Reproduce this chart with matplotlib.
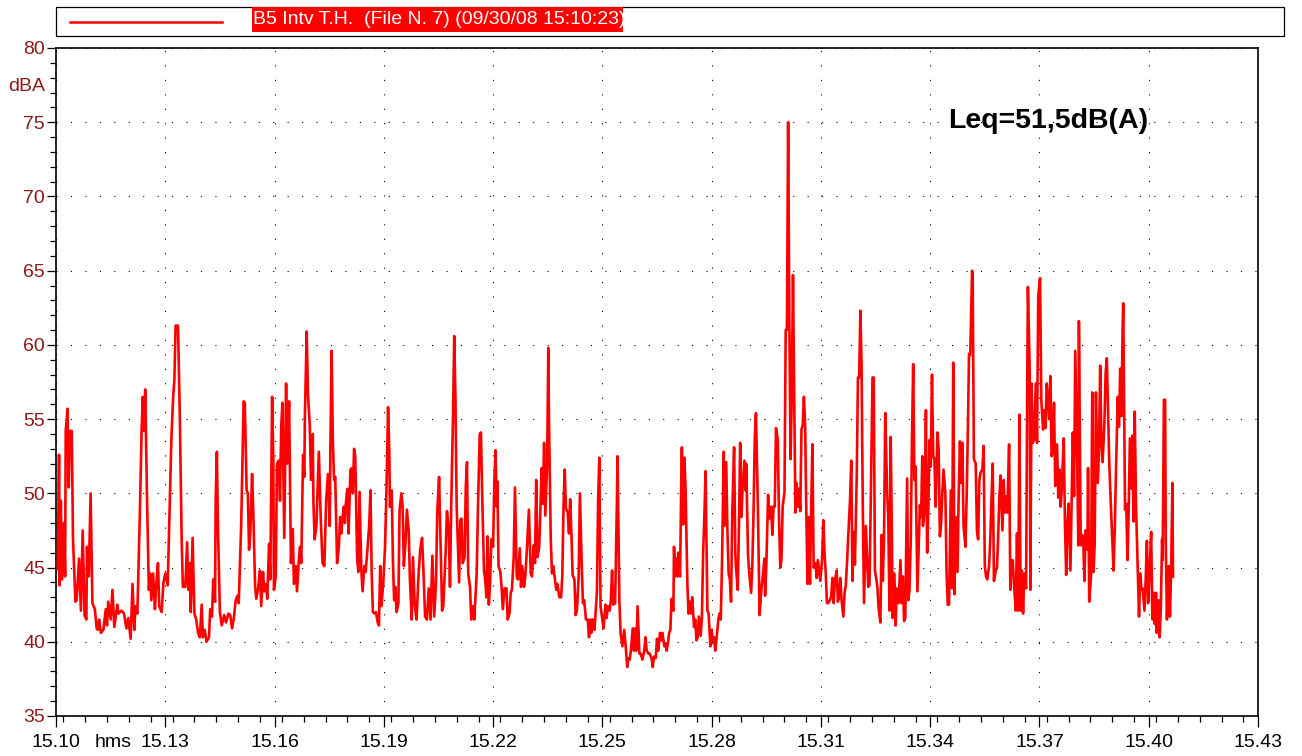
import numpy as np
import matplotlib
matplotlib.use("Agg")
import matplotlib.pyplot as plt
from matplotlib.ticker import MultipleLocator, FixedLocator
from matplotlib.patches import Rectangle
from matplotlib.lines import Line2D

plt.rcParams["font.family"] = ["Liberation Sans", "DejaVu Sans"]

# ---- data: sound level ----
# seconds after 15:10:00 (trace starts START_S seconds into the axis)
START_S = 3
seconds = [
    0, 2, 3, 5, 7, 10, 12, 13, 16, 18, 20, 23, 25, 29, 31, 35, 38, 41, 44, 47,
    48, 51, 54, 57, 61, 64, 66, 68, 71, 75, 79, 81, 83, 87, 90, 93, 98, 100, 105, 109,
    113, 116, 120, 123, 126, 128, 131, 135, 138, 140, 142, 144, 147, 150, 152, 154, 157, 160, 162, 165,
    167, 171, 174, 177, 181, 184, 187, 190, 192, 194, 198, 201, 204, 206, 210, 213, 215, 217, 219, 222,
    225,
    228, 231, 234, 237, 239, 242, 245, 249, 251, 254, 256, 259, 260, 262, 264, 267, 270, 274, 277, 281,
    284, 287, 290, 293, 296, 298, 300, 302, 304, 306, 308, 311, 313, 315, 317, 320, 322, 325, 327, 330,
    333, 335, 338, 340, 343, 345, 348, 350, 353, 355, 356, 359, 361, 364, 366, 368, 370, 373, 376, 378,
    381, 384, 387, 389, 392, 394, 397, 399, 401, 404, 406, 407, 410, 412, 415, 417, 420, 421, 423, 426,
    428, 430, 433, 436, 439, 442, 445, 448, 449, 451, 453, 455, 457, 460, 463,
    465, 467, 469, 471, 473, 474, 477, 479, 482, 484, 486, 488, 490, 493, 495, 497, 500, 502, 505, 507,
    510, 513, 515, 517, 519, 522, 524, 527, 529, 531, 533, 536, 539, 541, 544, 546, 547, 550, 552, 554,
    556, 558, 561, 563, 566, 568, 570, 573, 575, 578, 580, 583, 585, 588, 591, 594, 597, 600, 602, 605,
    608, 611, 614, 617, 620, 623, 625, 628, 630, 633, 635, 639, 641, 644, 646, 648, 651, 653, 655, 657,
    661, 663, 665, 667, 670, 672, 674, 676, 679, 681, 684, 686,
    690, 692, 695, 697, 699, 702, 704, 706, 708, 710, 712, 714, 717, 719, 721, 723, 724, 726, 729, 731,
    733, 736, 739, 741, 744, 746, 748, 751, 753, 756, 758, 761, 763, 765, 768, 770, 772, 774, 776, 779,
    781, 784, 786, 788, 790, 793, 795, 797, 799, 801, 803, 806, 808, 809, 812, 814, 816, 818, 821, 823,
    826, 829, 831, 833, 835, 837, 840, 842, 844, 846, 848, 851, 853, 855, 858, 860, 863, 865, 867, 870,
    873, 875, 877, 879, 881, 884, 886, 888, 890, 892, 894, 897, 899, 902, 904, 906, 909, 911, 913, 915,
    918,
    921, 922, 925, 927, 930, 933, 936, 938, 940, 942, 944, 947, 949, 951, 953, 955, 958, 960, 963, 966,
    968, 970, 973, 975, 978, 980, 982, 985, 987, 989, 992, 994, 996, 999, 1001, 1003, 1005, 1007, 1009, 1011,
    1014, 1015, 1017, 1019, 1021, 1022, 1025, 1027, 1028, 1030, 1032, 1034, 1037, 1039, 1041, 1043, 1045, 1048, 1050, 1052,
    1054, 1056, 1059, 1061, 1063, 1065, 1067, 1069, 1070, 1072, 1075, 1077, 1079, 1081, 1083, 1086, 1088, 1090, 1092, 1094,
    1097, 1098, 1101, 1103, 1105, 1107, 1109, 1111, 1114, 1116, 1117, 1120, 1122, 1124, 1126, 1128, 1131, 1133, 1134, 1137,
    1139, 1142, 1144, 1146, 1148, 1150, 1153,
    1156, 1159, 1161, 1164, 1165, 1167, 1170, 1172, 1175, 1177, 1179, 1181, 1183, 1186, 1188, 1190, 1192, 1194, 1197, 1199,
    1201, 1203, 1205, 1207, 1209, 1211, 1213, 1215, 1217, 1219, 1221, 1223, 1225, 1227, 1229, 1231, 1233, 1235, 1237, 1239,
    1241, 1243, 1245, 1248, 1250, 1252, 1254, 1256, 1259, 1261, 1263, 1265, 1267, 1269, 1272, 1274, 1276, 1278, 1280, 1283,
    1285, 1287, 1289, 1291, 1294, 1296, 1298, 1300, 1302, 1305, 1307, 1309, 1311, 1313, 1316, 1318, 1320, 1322, 1324, 1326,
    1328, 1331, 1333, 1335, 1337, 1339, 1342, 1344, 1346, 1348, 1350, 1352, 1355, 1357, 1359, 1361, 1363, 1366, 1368, 1370,
    1372, 1374, 1375, 1378, 1380, 1382, 1384,
    1385, 1388, 1390, 1392, 1394, 1396, 1399, 1401, 1403, 1405, 1407, 1409, 1411, 1413, 1416, 1418, 1420, 1422, 1424, 1425,
    1428, 1430, 1432, 1434, 1436, 1438, 1440, 1442, 1444, 1446, 1449, 1451, 1453, 1455, 1457, 1459, 1462, 1464, 1466, 1468,
    1471, 1473, 1475, 1477, 1479, 1482, 1484, 1486, 1488, 1490, 1492, 1495, 1497, 1499, 1501, 1503, 1506, 1507, 1509, 1512,
    1514, 1516, 1518, 1520, 1523, 1525, 1527, 1529, 1531, 1534, 1536, 1538, 1540, 1542, 1545, 1547, 1549, 1551, 1553, 1556,
    1558, 1560, 1562, 1564, 1567, 1569, 1571, 1573, 1575, 1578, 1580, 1582, 1584, 1586, 1588, 1590, 1592, 1595, 1597, 1598,
    1601, 1602, 1604, 1606, 1608, 1611, 1613,
    1615, 1618, 1620, 1623, 1625, 1627, 1629, 1631, 1633, 1635, 1637, 1639, 1641, 1643, 1646, 1648, 1650, 1652, 1654, 1657,
    1659, 1661, 1663, 1665, 1668, 1670, 1672, 1674, 1676, 1679, 1681, 1682, 1685, 1687, 1689, 1691, 1693, 1696, 1697, 1699,
    1702, 1704, 1706, 1708, 1710, 1713, 1715, 1717, 1719, 1721, 1724, 1726, 1728, 1730, 1732, 1735, 1737, 1739, 1741, 1743,
    1746, 1748, 1750, 1752, 1754, 1755, 1758, 1760, 1762, 1764, 1766, 1769, 1770, 1772, 1774, 1776, 1779, 1781, 1783, 1785,
    1787, 1790, 1792, 1794, 1796, 1798, 1801, 1803, 1805, 1807, 1809, 1810, 1813, 1815, 1817, 1819, 1820, 1822, 1824, 1825,
    1827, 1830, 1832, 1834, 1836, 1837,
]
level_dba = [
    44.9, 52.6, 43.8, 49.5, 44.2, 48.0, 44.4, 54.2, 55.7, 50.4, 54.2, 54.2, 46.9, 42.7, 42.8, 45.6, 42.1, 47.5, 41.8, 41.5,
    46.4, 44.4, 50.0, 42.6, 42.2, 40.9, 40.8, 41.5, 40.6, 40.8, 42.2, 41.1, 42.7, 41.5, 43.5, 41.0, 42.5, 41.9, 42.1, 41.9,
    40.9, 41.6, 40.2, 43.9, 40.8, 42.4, 41.9, 48.4, 54.2, 56.5, 54.2, 57.0, 49.5, 43.5, 44.6, 42.8, 44.6, 42.2, 43.8, 45.3,
    42.4, 42.0, 44.0, 44.6, 43.8, 48.7, 53.6, 56.5, 57.6, 61.3, 61.3, 55.1, 46.9, 43.7, 43.7, 46.7, 43.5, 45.3, 42.0, 47.0,
    41.9,
    41.5, 40.6, 40.3, 42.5, 40.3, 40.8, 40.0, 40.3, 42.2, 41.7, 44.2, 42.7, 49.5, 52.8, 47.3, 42.0, 41.1, 41.8, 41.3, 41.9,
    41.8, 40.9, 41.6, 42.8, 43.1, 42.6, 45.1, 47.8, 51.8, 56.2, 56.1, 50.2, 50.0, 46.2, 47.3, 51.3, 48.7, 43.7, 42.9, 43.6,
    44.8, 42.4, 44.7, 43.4, 43.9, 42.9, 46.6, 44.2, 56.5, 52.2, 43.5, 44.4, 52.0, 52.2, 49.5, 54.5, 56.1, 47.0, 57.4, 52.0,
    56.2, 45.3, 47.6, 43.9, 45.1, 43.4, 45.5, 46.4, 45.3, 52.6, 51.1, 55.2, 60.9, 56.7, 54.6, 50.9, 54.0, 49.5, 46.9, 47.8,
    50.4, 52.8, 48.4, 45.3, 45.1, 49.5, 51.3, 47.8, 53.1, 59.6, 53.6, 50.9, 51.1, 45.3, 46.4,
    48.4, 47.3, 48.4, 49.1, 48.0, 49.1, 50.3, 47.3, 51.6, 51.7, 50.0, 53.0, 52.5, 45.7, 44.7, 50.1, 44.8, 43.4, 45.1, 44.7,
    46.2, 47.9, 50.2, 44.6, 42.0, 41.9, 42.0, 41.3, 41.1, 45.1, 42.4, 43.9, 46.4, 49.5, 55.8, 52.9, 49.1, 50.2, 45.5, 42.8,
    43.7, 42.0, 42.6, 48.9, 50.0, 49.1, 45.1, 46.9, 48.9, 47.5, 44.2, 41.5, 45.7, 42.4, 41.5, 44.4, 46.2, 47.0, 45.1, 41.7,
    41.5, 43.6, 41.5, 45.8, 41.7, 44.0, 48.7, 51.1, 47.5, 42.1, 42.4, 46.2, 48.8, 47.5, 43.7, 49.1, 55.2, 60.6, 56.3, 49.1,
    44.0, 48.2, 48.3, 45.3, 45.7, 50.4, 52.1, 44.6, 43.7, 41.5, 42.4, 41.5,
    44.6, 48.9, 54.0, 54.1, 50.0, 44.8, 44.2, 43.0, 47.1, 42.5, 43.9, 46.9, 46.4, 50.7, 52.9, 49.1, 50.8, 45.1, 44.7, 43.7,
    42.2, 43.6, 43.6, 41.5, 41.9, 43.3, 43.5, 45.7, 50.4, 44.4, 44.2, 46.3, 43.7, 45.1, 43.7, 44.4, 45.7, 47.3, 48.9, 44.6,
    44.4, 46.5, 45.3, 50.9, 45.7, 46.4, 49.1, 51.7, 49.3, 53.4, 48.5, 52.0, 59.8, 55.1, 46.9, 44.6, 45.1, 44.5, 43.5, 43.9,
    43.0, 43.0, 44.4, 49.1, 51.6, 49.0, 48.7, 47.3, 49.6, 47.3, 44.5, 44.2, 41.8, 42.1, 44.4, 50.0, 45.1, 42.6, 42.8, 41.5,
    41.5, 40.3, 41.5, 40.6, 41.5, 40.8, 42.1, 43.3, 49.5, 52.4, 42.4, 41.5, 40.9, 42.5, 41.6, 42.4, 42.1, 42.8, 44.8, 42.5,
    42.6,
    49.5, 52.5, 42.8, 40.6, 39.7, 40.8, 39.4, 38.3, 38.9, 38.8, 39.4, 40.9, 39.4, 40.9, 39.4, 42.4, 39.2, 39.2, 38.8, 39.4,
    40.3, 39.4, 39.2, 39.2, 38.9, 38.3, 39.0, 38.9, 40.2, 39.4, 40.6, 40.1, 40.6, 39.7, 39.9, 39.4, 39.9, 40.6, 40.8, 42.9,
    42.1, 46.4, 44.4, 45.6, 44.4, 46.0, 44.4, 50.9, 53.1, 47.9, 52.4, 50.4, 43.9, 41.9, 42.7, 41.9, 43.0, 41.0, 41.5, 40.1,
    40.3, 41.7, 40.4, 41.7, 46.0, 48.4, 51.5, 45.1, 42.1, 41.9, 39.7, 40.8, 40.0, 40.3, 39.4, 40.6, 41.5, 41.9, 41.5, 45.1,
    52.8, 47.8, 52.1, 47.5, 44.6, 44.2, 42.7, 48.7, 53.1, 46.0, 45.1, 43.5, 47.8, 53.4, 48.4, 50.4, 52.2, 50.2, 52.0, 45.8,
    44.6, 43.3, 45.1, 48.7, 53.6, 55.4, 49.5,
    41.8, 43.6, 44.3, 45.6, 43.1, 45.0, 49.9, 48.3, 49.1, 47.2, 49.1, 49.1, 54.4, 53.6, 48.3, 45.0, 45.5, 49.1, 50.1, 61.0,
    61.0, 75.0, 61.8, 52.3, 56.5, 64.7, 56.5, 48.7, 50.7, 49.1, 50.3, 48.8, 54.3, 54.6, 56.5, 54.6, 48.6, 43.9, 48.4, 43.9,
    49.1, 53.3, 45.0, 45.3, 44.3, 45.5, 44.8, 44.1, 45.6, 48.2, 45.9, 44.6, 42.6, 42.6, 42.8, 43.1, 44.3, 42.6, 44.1, 44.8,
    42.7, 43.1, 44.3, 42.8, 41.7, 43.3, 43.8, 45.3, 47.1, 49.6, 52.2, 44.1, 47.4, 45.2, 51.1, 57.8, 57.8, 62.3, 58.5, 49.1,
    42.6, 47.8, 45.8, 43.7, 43.8, 49.1, 57.8, 57.8, 44.8, 44.3, 43.7, 42.3, 41.3, 47.2, 44.1, 47.1, 55.4, 50.3, 48.3, 42.1,
    53.8, 46.8, 41.6, 44.6, 41.1, 43.6, 42.8,
    42.6, 45.5, 42.6, 44.4, 41.4, 41.6, 51.0, 42.8, 43.5, 46.9, 53.6, 58.7, 50.9, 51.8, 43.4, 46.4, 49.2, 48.4, 52.5, 47.8,
    48.9, 55.6, 46.0, 49.1, 53.6, 51.8, 58.0, 52.5, 52.3, 49.1, 54.1, 52.9, 47.1, 48.0, 50.0, 51.6, 50.0, 44.6, 42.5, 42.5,
    50.2, 43.6, 58.8, 43.2, 48.4, 44.7, 50.0, 53.5, 50.7, 53.4, 47.8, 46.4, 49.6, 54.1, 59.4, 59.3, 65.0, 64.8, 52.3, 52.0,
    47.5, 46.9, 50.9, 51.4, 51.6, 53.2, 45.1, 44.4, 44.2, 45.1, 46.9, 49.6, 52.0, 44.1, 44.8, 45.0, 47.1, 49.8, 51.2, 47.5,
    50.9, 48.7, 49.8, 48.7, 53.3, 43.5, 45.5, 45.5, 43.9, 42.1, 47.3, 42.1, 55.3, 42.1, 44.8, 41.9, 44.6, 43.6, 58.2, 63.9,
    58.1, 43.5, 57.4, 53.4, 53.6, 57.4, 53.4,
    63.3, 64.5, 56.3, 54.3, 55.6, 54.4, 57.4, 56.3, 55.0, 57.9, 52.5, 52.9, 56.1, 50.5, 53.3, 49.7, 51.6, 49.1, 50.5, 53.7,
    48.0, 44.5, 47.8, 49.3, 44.8, 49.6, 54.1, 49.8, 59.6, 52.7, 46.5, 61.6, 46.5, 47.2, 47.1, 44.1, 47.5, 46.2, 51.7, 42.7,
    44.4, 56.8, 44.7, 46.6, 56.8, 50.7, 52.7, 58.6, 53.6, 52.1, 54.7, 58.1, 59.1, 55.4, 52.0, 48.8, 46.9, 44.8, 47.5, 51.4,
    56.5, 54.5, 58.4, 55.2, 61.0, 62.8, 48.9, 49.3, 45.5, 48.9, 53.7, 50.3, 53.9, 48.1, 55.5, 49.3, 44.8, 41.7, 44.6, 43.5,
    43.6, 42.1, 44.2, 46.8, 42.6, 44.4, 47.4, 41.5, 43.3, 41.2, 43.3, 40.6, 42.8, 40.3, 42.4, 46.9, 45.5, 56.3, 56.3, 46.9,
    41.5, 45.1, 41.7, 45.1, 50.7, 44.4,
]
n = min(len(seconds), len(level_dba))

series_label = "B5 Intv T.H.  (File N. 7) (09/30/08 15:10:23)"
leq_label = "Leq=51,5dB(A)"
x_ticks = [15.10, 15.13, 15.16, 15.19, 15.22, 15.25, 15.28, 15.31, 15.34, 15.37, 15.40, 15.43]
y_ticks = [35, 40, 45, 50, 55, 60, 65, 70, 75, 80]

RED = "#ff0000"
AXIS_RED = "#8b1a1a"
W, H = 1302, 756

t_hms = 15.10 + (np.array(seconds[:n]) + START_S) / 6000.0
lev = np.array(level_dba[:n])

fig = plt.figure(figsize=(W / 100, H / 100), dpi=100)
ax = fig.add_axes([56 / W, 1 - 716 / H, (1258 - 56) / W, (716 - 48) / H])

ax.plot(t_hms, lev, color=RED, lw=1.9, zorder=3)

ax.set_xlim(15.10, 15.43)
ax.set_ylim(35, 80)
ax.xaxis.set_major_locator(FixedLocator(x_ticks))
ax.set_xticklabels([f"{v:.2f}" for v in x_ticks])
ax.xaxis.set_minor_locator(MultipleLocator(0.006))
ax.yaxis.set_major_locator(FixedLocator(y_ticks))
ax.yaxis.set_minor_locator(MultipleLocator(1))

ax.tick_params(axis="x", which="major", direction="out", length=8, width=0.9,
               labelsize=14, pad=5, top=False)
ax.tick_params(axis="x", which="minor", direction="out", length=4.5, width=0.9, top=False)
ax.tick_params(axis="y", which="major", direction="out", length=6.5, width=0.9,
               labelsize=14, pad=1.5, labelcolor=AXIS_RED, right=False)
ax.tick_params(axis="y", which="minor", direction="out", length=4.5, width=0.9, right=False)

ax.grid(True, which="major", color="k", linestyle=(0, (1, 12)), linewidth=0.8, zorder=1)
for s in ax.spines.values():
    s.set_linewidth(1.2)

# axis units
ax.annotate("dBA", xy=(0, 77.4), xycoords=("axes fraction", "data"),
            xytext=(-7.5, 0), textcoords="offset points", ha="right", va="center",
            fontsize=14, color=AXIS_RED)
ax.annotate("hms", xy=(15.1156, 0), xycoords=("data", "axes fraction"),
            xytext=(0, -13), textcoords="offset points", ha="center", va="top",
            fontsize=14, color="k")

ax.text(0.7425, 0.880, leq_label, transform=ax.transAxes, fontsize=20.5,
        fontweight="bold", ha="left", va="baseline", color="k")

# legend strip above the plot
fig.add_artist(Rectangle((56 / W, 1 - 36 / H), (1284 - 56) / W, 29 / H,
                         transform=fig.transFigure, facecolor="white",
                         edgecolor="k", lw=0.9))
fig.add_artist(Line2D([70 / W, 222 / W], [1 - 22 / H, 1 - 22 / H],
                      transform=fig.transFigure, color=RED, lw=1.8))
fig.add_artist(Rectangle((252 / W, 1 - 32 / H), (623 - 252) / W, 25 / H,
                         transform=fig.transFigure, facecolor=RED, edgecolor="none"))
fig.text(253 / W, 1 - 20 / H, series_label, color="white", fontsize=14,
         ha="left", va="center")

fig.savefig("out.png", dpi=100)
